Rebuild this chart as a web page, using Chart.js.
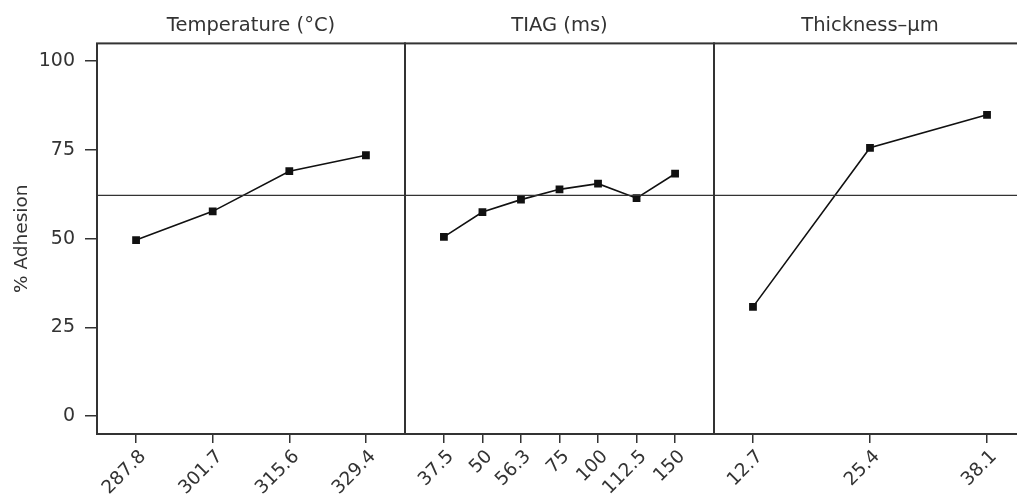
<!DOCTYPE html>
<html>
<head>
<meta charset="utf-8">
<script src="https://cdn.jsdelivr.net/npm/chart.js@4.4.1/dist/chart.umd.min.js"></script>
<style>
  html, body { margin: 0; padding: 0; background: #fff; overflow: hidden; }
  #wrap { position: relative; width: 1017px; height: 499px; overflow: hidden; }
  .panel { position: absolute; top: 0; height: 499px; }
</style>
</head>
<body>
<div id="wrap">
  <div class="panel" style="left:0;width:407px"><canvas id="tempChart"></canvas></div>
  <div class="panel" style="left:403px;width:313px"><canvas id="tiagChart"></canvas></div>
  <div class="panel" style="left:712px;width:316px"><canvas id="thickChart"></canvas></div>
</div>
<script>
// data
const TEMP_LABELS = ['287.8', '301.7', '315.6', '329.4'];
const TEMP_VALUES = [49.6, 57.7, 69.0, 73.5];
const TIAG_LABELS = ['37.5', '50', '56.3', '75', '100', '112.5', '150'];
const TIAG_VALUES = [50.5, 57.5, 61.0, 63.9, 65.5, 61.4, 68.3];
const THICK_LABELS = ['12.7', '25.4', '38.1'];
const THICK_VALUES = [30.8, 75.6, 84.9];
const Y_TICKS = [0, 25, 50, 75, 100];
const GRAND_MEAN = 62.2;

const INK = '#333';
const FONT = 'DejaVu Sans';

// frame round each panel + the grand mean line
const panelFrame = {
  id: 'panelFrame',
  afterDatasetsDraw(chart) {
    const { ctx, chartArea: a, scales } = chart;
    const y = scales.y.getPixelForValue(GRAND_MEAN);
    ctx.save();
    ctx.strokeStyle = INK;
    ctx.lineWidth = 1.3;
    ctx.beginPath();
    ctx.moveTo(a.left, y);
    ctx.lineTo(a.right, y);
    ctx.stroke();
    ctx.lineWidth = 2;
    ctx.strokeRect(a.left, a.top, a.right - a.left, a.bottom - a.top);
    ctx.restore();
  }
};

function makePanel(id, title, labels, values, pad, showY) {
  const ctx = document.getElementById(id).getContext('2d');
  return new Chart(ctx, {
    type: 'line',
    data: {
      datasets: [{
        data: values.map((v, i) => ({ x: i, y: v })),
        borderColor: '#111',
        backgroundColor: '#111',
        borderWidth: 1.6,
        pointStyle: 'rect',
        pointRadius: 5.5,
        pointBorderWidth: 0,
        tension: 0
      }]
    },
    options: {
      responsive: true,
      maintainAspectRatio: false,
      animation: false,
      layout: { autoPadding: false, padding: { left: 2, right: 2, top: 0, bottom: 0 } },
      scales: {
        x: {
          type: 'linear',
          min: -pad,
          max: labels.length - 1 + pad,
          afterBuildTicks: (scale) => {
            scale.ticks = labels.map((l, i) => ({ value: i }));
          },
          afterFit: (scale) => {
            scale.height = 65;
            scale.paddingLeft = 0;
            scale.paddingRight = 0;
          },
          grid: { display: true, drawOnChartArea: false, drawTicks: true, tickLength: 9, color: INK, lineWidth: 1.5 },
          border: { display: false },
          ticks: {
            autoSkip: false,
            maxRotation: 45,
            minRotation: 45,
            padding: 3,
            labelOffset: 7,
            color: INK,
            font: { family: FONT, size: 18.5 },
            callback: (v) => labels[v]
          }
        },
        y: {
          display: showY,
          min: -5,
          max: 105,
          afterBuildTicks: (scale) => {
            scale.ticks = Y_TICKS.map(v => ({ value: v }));
          },
          afterFit: (scale) => { scale.width = showY ? 95 : 0; },
          grid: { display: true, drawOnChartArea: false, drawTicks: true, tickLength: 12, color: INK, lineWidth: 1.5 },
          border: { display: false },
          ticks: { padding: 10, color: INK, font: { family: FONT, size: 19 } },
          title: {
            display: true,
            text: '% Adhesion',
            color: INK,
            font: { family: FONT, size: 18.5 },
            padding: { top: 9, bottom: 0 }
          }
        }
      },
      plugins: {
        legend: { display: false },
        tooltip: { enabled: false },
        title: {
          display: true,
          text: title,
          fullSize: false,
          color: INK,
          font: { family: FONT, size: 19.5, weight: 'normal' },
          padding: { top: 14, bottom: 6 }
        }
      }
    },
    plugins: [panelFrame]
  });
}

makePanel('tempChart', 'Temperature (°C)', TEMP_LABELS, TEMP_VALUES, 0.51, true);
makePanel('tiagChart', 'TIAG (ms)', TIAG_LABELS, TIAG_VALUES, 1.01, false);
makePanel('thickChart', 'Thickness–µm', THICK_LABELS, THICK_VALUES, 0.333, false);
</script>
</body>
</html>
